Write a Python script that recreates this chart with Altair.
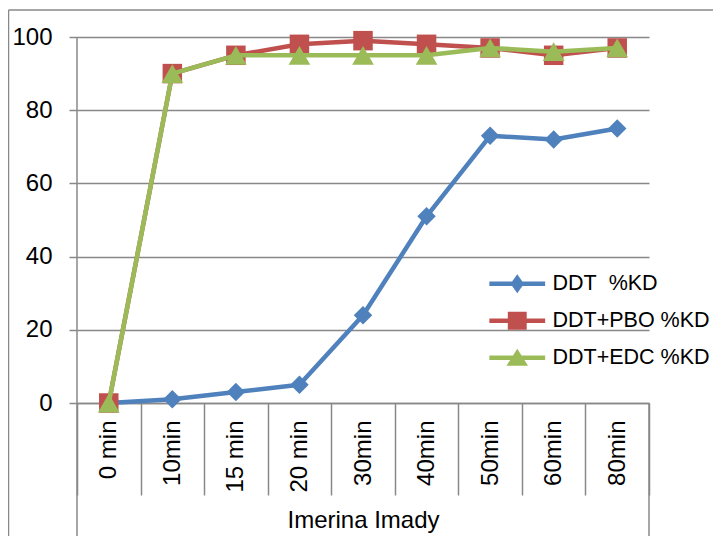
import altair as alt
import pandas as pd

# ---- data ----
times = ["0 min", "10min", "15 min", "20 min", "30min", "40min", "50min", "60min", "80min"]
series_names = ["DDT\u00a0 %KD", "DDT+PBO %KD", "DDT+EDC %KD"]
ddt = [0, 1, 3, 5, 24, 51, 73, 72, 75]
ddt_pbo = [0, 90, 95, 98, 99, 98, 97, 95, 97]
ddt_edc = [0, 90, 95, 95, 95, 95, 97, 96, 97]
y_ticks = [0, 20, 40, 60, 80, 100]
group_label = "Imerina Imady"

colors = ["#4F81BD", "#C0504D", "#9BBB59"]
marker_shapes = ["diamond", "square", "triangle-up"]
marker_sizes = [340, 380, 470]
legend_paths = [
    "M-3.1,-0.25H3.1V0.25H-3.1Z M0,-1.05L0.75,0L0,1.05L-0.75,0Z",
    "M-3.1,-0.25H3.1V0.25H-3.1Z M-1.05,-1.0H1.05V1.0H-1.05Z",
    "M-3.1,-0.25H3.1V0.25H-3.1Z M0,-1.0L1.2,0.9L-1.2,0.9Z",
]

FONT = "Liberation Sans"
GRAY = "#888888"

rows = []
for name, vals in zip(series_names, [ddt, ddt_pbo, ddt_edc]):
    for t, v in zip(times, vals):
        rows.append({"time": t, "series": name, "value": v})
df = pd.DataFrame(rows)

W, H = 572, 366
PAD = {"left": 69, "top": 29, "right": 64, "bottom": 133}
BOTTOM = H + PAD["bottom"]

x_enc = alt.X(
    "time:N",
    sort=times,
    scale=alt.Scale(type="band", domain=times, paddingInner=0, paddingOuter=0),
    axis=alt.Axis(
        title=group_label,
        titleFont=FONT, titleFontSize=24, titleFontWeight="normal", titleColor="black",
        titleX=W / 2, titleY=124, titleBaseline="alphabetic", titleAlign="center",
        labelAngle=-90, labelAlign="right", labelBaseline="middle",
        labelFont=FONT, labelFontSize=24, labelColor="black", labelPadding=-75,
        labelOverlap=False, labelLimit=0,
        tickBand="extent", tickSize=92, tickColor=GRAY, tickWidth=1.5,
        domainColor=GRAY, domainWidth=1.5, grid=False,
    ),
)
y_enc = alt.Y(
    "value:Q",
    scale=alt.Scale(domain=[0, 100], nice=False),
    axis=alt.Axis(
        values=y_ticks, title=None, grid=True, gridColor=GRAY, gridWidth=1.5,
        domain=False, tickSize=8, tickColor=GRAY, tickWidth=1.5,
        labelFont=FONT, labelFontSize=24, labelColor="black", labelPadding=17,
    ),
)
color_enc = alt.Color("series:N", scale=alt.Scale(domain=series_names, range=colors), legend=None)
shape_enc = alt.Shape("series:N", scale=alt.Scale(domain=series_names, range=marker_shapes), legend=None)

one = alt.Chart(pd.DataFrame({"k": [0]}))
rule_style = dict(color=GRAY, strokeWidth=1.5)
decor = [
    one.mark_rule(**rule_style).encode(x=alt.value(0), y=alt.value(0), y2=alt.value(BOTTOM)),
    one.mark_rule(**rule_style).encode(x=alt.value(W), y=alt.value(H), y2=alt.value(BOTTOM)),
    one.mark_rule(**rule_style).encode(x=alt.value(-68.5), x2=alt.value(W + PAD["right"]), y=alt.value(-27)),
    one.mark_rule(**rule_style).encode(x=alt.value(-68.5), y=alt.value(-27), y2=alt.value(BOTTOM)),
]

base = alt.Chart(df)
series_layers = []
for i, name in enumerate(series_names):
    sub = base.transform_filter(alt.datum.series == name)
    series_layers.append(
        sub.mark_line(strokeWidth=4.5, strokeCap="round", strokeJoin="round").encode(x=x_enc, y=y_enc, color=color_enc)
    )
    series_layers.append(
        sub.mark_point(filled=True, opacity=1, size=marker_sizes[i], strokeWidth=0).encode(
            x=x_enc, y=y_enc, color=color_enc, shape=shape_enc
        )
    )

leg_props = dict(
    title=None, orient="none", legendX=429.5, legendY=236, padding=0,
    symbolSize=324, symbolStrokeWidth=0, symbolOpacity=1,
    labelFont=FONT, labelFontSize=21.5, labelColor="black", labelOffset=24.5,
    labelLimit=0, rowPadding=14,
)
legend_layer = base.transform_filter("false").mark_point(filled=True, opacity=1).encode(
    color=alt.Color("series:N", scale=alt.Scale(domain=series_names, range=colors), legend=alt.Legend(**leg_props)),
    shape=alt.Shape("series:N", scale=alt.Scale(domain=series_names, range=legend_paths), legend=alt.Legend(**leg_props)),
)

chart = (
    alt.layer(*decor, *series_layers, legend_layer)
    .resolve_scale(shape="independent", color="independent")
    .properties(width=W, height=H, padding=PAD, autosize=alt.AutoSizeParams(type="none"), background="white")
    .configure_view(stroke=None)
)

chart.save("out.html", embed_options={"renderer": "svg", "actions": False})
